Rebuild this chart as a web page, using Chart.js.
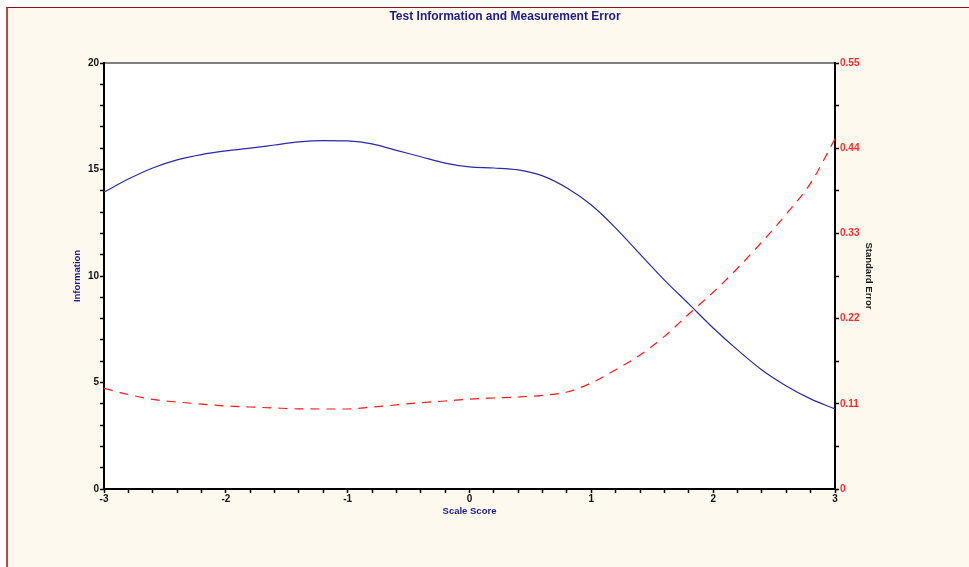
<!DOCTYPE html>
<html>
<head>
<meta charset="utf-8">
<script src="https://cdn.jsdelivr.net/npm/chart.js@4/dist/chart.umd.min.js"></script>
<style>
  html, body { margin: 0; padding: 0; background: #ffffff; }
  #frame {
    position: absolute; left: 6px; top: 7px; width: 963px; height: 560px;
    background: #fef9ee; border-top: 1px solid #8a1414; border-left: 2px solid #b84a4a;
    box-sizing: border-box;
  }
  #wrap { position: absolute; left: 0; top: 0; width: 969px; height: 567px; }
</style>
</head>
<body>
<div id="frame"></div>
<div id="wrap"><canvas id="chart" width="969" height="567"></canvas></div>
<script>
// Scale scores sampled every 0.2 from -3 to 3
const scaleScores = [-3.0, -2.8, -2.6, -2.4, -2.2, -2.0, -1.8, -1.6, -1.4, -1.2, -1.0,
                     -0.8, -0.6, -0.4, -0.2, 0.0, 0.2, 0.4, 0.6, 0.8, 1.0,
                     1.2, 1.4, 1.6, 1.8, 2.0, 2.2, 2.4, 2.6, 2.8, 3.0];

// Test information at each scale score
const information = [13.94, 14.55, 15.07, 15.45, 15.70, 15.87, 16.00, 16.15, 16.30, 16.36, 16.34,
                     16.20, 15.90, 15.60, 15.30, 15.12, 15.07, 14.98, 14.70, 14.13, 13.33,
                     12.25, 11.03, 9.81, 8.69, 7.56, 6.53, 5.59, 4.84, 4.23, 3.76];

// Standard error of measurement at each scale score
const standardError = [0.130, 0.122, 0.1156, 0.1123, 0.1097, 0.1072, 0.1059, 0.1046, 0.1035, 0.1033, 0.1033,
                       0.1059, 0.1085, 0.1115, 0.1136, 0.1160, 0.1175, 0.1188, 0.1210, 0.1252, 0.137,
                       0.154, 0.173, 0.197, 0.226, 0.254, 0.285, 0.319, 0.355, 0.395, 0.452];

const titleText = 'Test Information and Measurement Error';
const xTitle = 'Scale Score';
const yTitle = 'Information';
const y1Title = 'Standard Error';

const navy = '#1c1c8a';
const FONT = 'Liberation Sans, Arial, sans-serif';

const toXY = (vals) => scaleScores.map((s, i) => ({ x: s, y: vals[i] }));

// White plotting area over the cream page, plus the heading
const plotBackground = {
  id: 'plotBackground',
  beforeDraw(chart) {
    const { ctx, chartArea: a } = chart;
    ctx.save();
    ctx.fillStyle = '#ffffff';
    ctx.fillRect(a.left, a.top, a.right - a.left, a.bottom - a.top);
    ctx.restore();
  },
  afterDraw(chart) {
    const { ctx } = chart;
    ctx.save();
    ctx.fillStyle = navy;
    ctx.font = 'bold 12px ' + FONT;
    ctx.textAlign = 'center';
    ctx.textBaseline = 'middle';
    ctx.fillText(titleText, 505, 17);
    ctx.restore();
  }
};

new Chart(document.getElementById('chart'), {
  type: 'line',
  data: {
    datasets: [
      {
        label: yTitle,
        data: toXY(information),
        yAxisID: 'y',
        borderColor: '#2a2aa6',
        borderWidth: 1.2,
        pointRadius: 0,
        cubicInterpolationMode: 'monotone',
        fill: false
      },
      {
        label: y1Title,
        data: toXY(standardError),
        yAxisID: 'y1',
        borderColor: '#ff1a1a',
        borderWidth: 1.2,
        borderDash: [9, 7],
        pointRadius: 0,
        cubicInterpolationMode: 'monotone',
        fill: false
      }
    ]
  },
  plugins: [plotBackground],
  options: {
    responsive: false,
    animation: false,
    layout: { padding: { top: 63, left: 0, right: 0, bottom: 0 } },
    plugins: {
      legend: { display: false },
      tooltip: { enabled: false },
      title: { display: false }
    },
    scales: {
      x: {
        type: 'linear',
        position: 'bottom',
        min: -3, max: 3,
        afterFit(s) { s.height = 78; },
        border: { color: '#000000', width: 2 },
        grid: { drawOnChartArea: false, drawTicks: true, tickLength: 4, tickWidth: 1.5, tickColor: '#000000' },
        ticks: {
          stepSize: 0.2, autoSkip: false, maxRotation: 0, padding: 0,
          color: '#111111',
          font: { family: FONT, size: 10, weight: 'bold' },
          callback: (v, i) => (i % 5 === 0 ? String(Math.round(v)) : '')
        },
        title: {
          display: true, text: xTitle, color: navy,
          font: { family: FONT, size: 9.5, weight: 'bold' },
          padding: { top: 0, bottom: 50 }
        }
      },
      xTop: {
        type: 'linear',
        position: 'top',
        min: -3, max: 3,
        afterFit(s) { s.height = 0; },
        border: { color: '#808080', width: 2 },
        grid: { drawOnChartArea: false, drawTicks: false },
        ticks: { display: false }
      },
      y: {
        position: 'left',
        min: 0, max: 20,
        afterFit(s) { s.width = 104; },
        border: { color: '#000000', width: 2 },
        grid: { drawOnChartArea: false, drawTicks: true, tickLength: 4, tickWidth: 1.5, tickColor: '#000000' },
        ticks: {
          stepSize: 1, autoSkip: false, padding: 1,
          color: '#111111',
          font: { family: FONT, size: 10, weight: 'bold' },
          callback: (v) => (Math.round(v) % 5 === 0 ? String(Math.round(v)) : '')
        },
        title: {
          display: true, text: yTitle, color: navy,
          font: { family: FONT, size: 9.5, weight: 'bold' },
          padding: { top: 72, bottom: 0 }
        }
      },
      y1: {
        position: 'right',
        min: 0, max: 0.55,
        afterFit(s) { s.width = 134; },
        border: { color: '#000000', width: 2 },
        grid: { drawOnChartArea: false, drawTicks: true, tickLength: 4, tickWidth: 1.5, tickColor: '#000000' },
        ticks: {
          stepSize: 0.055, autoSkip: false, padding: 1,
          color: '#ff2a2a',
          font: { family: FONT, size: 10, weight: 'bold' },
          callback: (v, i) => (i % 2 === 0 ? (i === 0 ? '0' : v.toFixed(2)) : '')
        },
        title: {
          display: true, text: y1Title, color: '#1a1a1a',
          font: { family: FONT, size: 9.5, weight: 'bold' },
          padding: { top: 95, bottom: 0 }
        }
      }
    }
  }
});
</script>
</body>
</html>
